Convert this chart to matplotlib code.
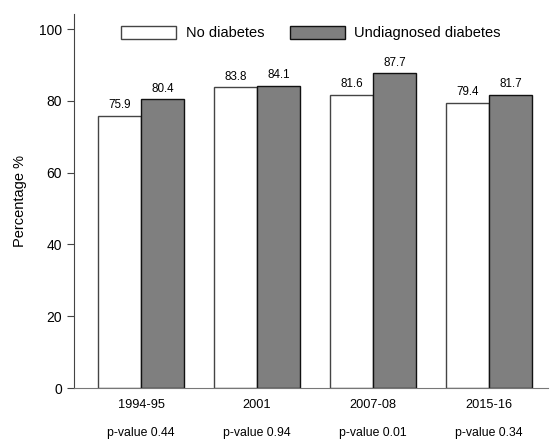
import numpy as np
import matplotlib.pyplot as plt

plt.rcParams['font.family'] = ['Liberation Sans', 'DejaVu Sans']

years = ["1994-95", "2001", "2007-08", "2015-16"]
no_diabetes = [75.9, 83.8, 81.6, 79.4]
undiagnosed = [80.4, 84.1, 87.7, 81.7]
p_values = ["p-value 0.44", "p-value 0.94", "p-value 0.01", "p-value 0.34"]

x = np.arange(len(years))
w = 0.37

fig = plt.figure(figsize=(5.52, 4.40), dpi=100)
ax = fig.add_axes([74 / 552, 1 - 388 / 440, 474 / 552, 374 / 440])

b1 = ax.bar(x - w / 2, no_diabetes, w, color="white", edgecolor="#444444",
            linewidth=1.0, label="No diabetes")
b2 = ax.bar(x + w / 2, undiagnosed, w, color="#7f7f7f", edgecolor="#111111",
            linewidth=1.0, label="Undiagnosed diabetes")

# value labels above each bar
for bars in (b1, b2):
    for r in bars:
        ax.text(r.get_x() + r.get_width() / 2, r.get_height() + 2.15,
                f"{r.get_height():.1f}", ha="center", va="baseline", fontsize=8.4)

ax.set_xlim(-0.578, 3.51)
ax.set_ylim(0, 104.2)
ax.set_yticks([0, 20, 40, 60, 80, 100])
ax.set_xticks(x)
ax.set_xticklabels(years, fontsize=9.2)
ax.tick_params(axis="x", length=0, pad=8)
ax.tick_params(axis="y", labelsize=10, length=5, width=0.8, colors="#444444",
               labelcolor="black")
for lab, px in zip(p_values, x):
    ax.text(px, -12.5, lab, ha="center", va="center", fontsize=8.8)

ax.spines["top"].set_visible(False)
ax.spines["right"].set_visible(False)
ax.spines["left"].set_color("#444444")
ax.spines["bottom"].set_color("#777777")
ax.set_ylabel("Percentage %", fontsize=10.5, labelpad=9)

ax.legend(loc="center", bbox_to_anchor=(0.5, 0.949), ncol=2,
          frameon=False, fontsize=10.5, handlelength=3.8, handleheight=0.95,
          columnspacing=1.78, handletextpad=0.62)

fig.savefig("out.png", dpi=100)
